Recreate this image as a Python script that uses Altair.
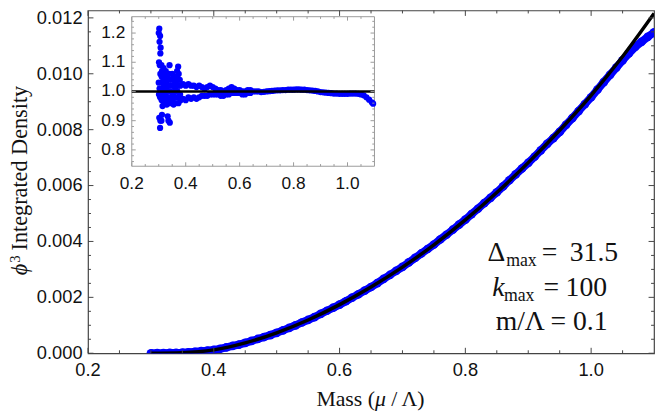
import altair as alt
import pandas as pd

# ---------------- data ----------------
main_x = [0.30, 0.31, 0.32, 0.33, 0.34, 0.35, 0.36, 0.37, 0.38, 0.39,
          0.40, 0.41, 0.42, 0.43, 0.44, 0.45, 0.46, 0.47, 0.48, 0.49,
          0.50, 0.51, 0.52, 0.53, 0.54, 0.55, 0.56, 0.57, 0.58, 0.59,
          0.60, 0.61, 0.62, 0.63, 0.64, 0.65, 0.66, 0.67, 0.68, 0.69,
          0.70, 0.71, 0.72, 0.73, 0.74, 0.75, 0.76, 0.77, 0.78, 0.79,
          0.80, 0.81, 0.82, 0.83, 0.84, 0.85, 0.86, 0.87, 0.88, 0.89,
          0.90, 0.91, 0.92, 0.93, 0.94, 0.95, 0.96, 0.97, 0.98, 0.99,
          1.00, 1.01, 1.02, 1.03, 1.04, 1.05, 1.06, 1.07, 1.08, 1.09, 1.10]
main_y = [0.0, 0.000002, 0.000005, 0.00001, 0.000014, 0.00002, 0.000033, 0.000052, 0.000072, 0.000094,
          0.00012, 0.00016, 0.00021, 0.00026, 0.00031, 0.00037, 0.00044, 0.00051, 0.00058, 0.00065,
          0.00073, 0.00082, 0.00091, 0.00100, 0.00110, 0.00119, 0.00129, 0.00141, 0.00152, 0.00163,
          0.00174, 0.00186, 0.00199, 0.00211, 0.00224, 0.00237, 0.00251, 0.00266, 0.00280, 0.00295,
          0.00309, 0.00325, 0.00341, 0.00357, 0.00373, 0.00389, 0.00407, 0.00424, 0.00442, 0.00460,
          0.00478, 0.00498, 0.00517, 0.00537, 0.00556, 0.00576, 0.00597, 0.00619, 0.00640, 0.00661,
          0.00681, 0.00703, 0.00726, 0.00749, 0.00770, 0.00792, 0.00817, 0.00841, 0.00866, 0.00891,
          0.00916, 0.00943, 0.00970, 0.00996, 0.01022, 0.01048, 0.01073, 0.01096, 0.01114, 0.01132, 0.01148]

theory_x = [0.30, 0.35, 0.40, 0.45, 0.50, 0.55, 0.60, 0.65, 0.70, 0.75, 0.80, 0.85, 0.90, 0.95, 1.00, 1.05, 1.10]
theory_y = [0.0, 0.00002, 0.00012, 0.00037, 0.00073, 0.00119, 0.00174, 0.00237, 0.00308, 0.00388,
            0.00477, 0.00575, 0.00682, 0.00798, 0.00923, 0.01062, 0.01216]

inset_x = [0.300, 0.302, 0.305, 0.303, 0.307, 0.306, 0.301, 0.304, 0.306, 0.300, 0.303, 0.301, 0.305, 0.302, 0.306, 0.305,
           0.310, 0.312, 0.311, 0.313, 0.310, 0.312, 0.311, 0.314, 0.312, 0.310,
           0.318, 0.320, 0.318, 0.320, 0.319, 0.321, 0.320,
           0.326, 0.328, 0.327, 0.329, 0.326, 0.328, 0.330, 0.333, 0.336,
           0.338, 0.340, 0.342, 0.340, 0.343, 0.341, 0.344, 0.341,
           0.350, 0.352, 0.351, 0.353, 0.350, 0.355,
           0.360, 0.362, 0.361, 0.363, 0.360,
           0.368, 0.372, 0.374, 0.370, 0.372, 0.369, 0.371, 0.373,
           0.378, 0.380, 0.379, 0.381,
           0.39, 0.39, 0.40, 0.40, 0.41, 0.41, 0.42, 0.42, 0.43, 0.43, 0.44, 0.44, 0.45, 0.45,
           0.46, 0.46, 0.47, 0.47, 0.48, 0.48, 0.49, 0.49, 0.50, 0.50, 0.51, 0.51, 0.52, 0.52,
           0.53, 0.53, 0.54, 0.54, 0.55, 0.55, 0.56, 0.56, 0.57, 0.57, 0.58, 0.58, 0.59, 0.59,
           0.60, 0.60, 0.61, 0.61, 0.62, 0.62, 0.63, 0.63, 0.64, 0.64,
           0.65, 0.66, 0.67, 0.68, 0.69, 0.70, 0.71, 0.72, 0.73, 0.74, 0.75, 0.76, 0.77, 0.78, 0.79,
           0.80, 0.81, 0.82, 0.83, 0.84, 0.85, 0.86, 0.87, 0.88, 0.89, 0.90, 0.91, 0.92, 0.93, 0.94,
           0.95, 0.96, 0.97, 0.98, 0.99, 1.00, 1.01, 1.02, 1.03, 1.04, 1.05, 1.06, 1.07, 1.08, 1.09, 1.095]
inset_r = [1.20, 1.215, 1.19, 1.17, 1.15, 1.13, 1.10, 1.09, 1.06, 1.03, 1.01, 0.99, 0.98, 0.91, 0.90, 0.875,
           1.09, 1.07, 1.05, 1.03, 1.01, 0.99, 0.97, 0.95, 0.92, 0.90,
           1.08, 1.06, 1.04, 1.02, 1.00, 0.98, 0.96,
           1.07, 1.05, 1.03, 1.01, 0.99, 0.97, 0.955, 0.915, 0.90,
           1.06, 1.09, 1.04, 1.02, 1.00, 0.98, 0.96, 0.893,
           1.06, 1.04, 1.02, 0.99, 0.97, 0.955,
           1.05, 1.03, 1.01, 0.98, 0.96,
           1.07, 1.085, 1.06, 1.04, 1.02, 1.00, 0.98, 0.96,
           1.04, 1.02, 0.99, 0.97,
           1.025, 0.975, 1.02, 0.97, 1.025, 0.98, 1.02, 0.975, 1.02, 0.98, 1.015, 0.975, 1.02, 0.98,
           1.015, 0.985, 1.01, 0.985, 1.015, 0.985, 1.02, 0.99, 1.015, 0.99, 1.01, 0.99, 1.005, 0.99,
           1.005, 0.985, 1.00, 0.985, 1.005, 0.99, 1.01, 0.99, 1.015, 0.995, 1.01, 0.995, 1.005, 0.995,
           1.005, 0.995, 1.00, 0.99, 1.00, 0.99, 1.005, 0.995, 1.005, 0.995,
           1.000, 1.000, 1.000, 0.998, 0.999, 1.000, 1.001, 1.002, 1.003, 1.004, 1.004, 1.005, 1.005, 1.006, 1.006,
           1.006, 1.007, 1.007, 1.006, 1.006, 1.005, 1.004, 1.003, 1.002, 1.000, 0.998, 0.997, 0.996, 0.995, 0.994,
           0.993, 0.993, 0.992, 0.992, 0.992, 0.992, 0.993, 0.993, 0.993, 0.992, 0.990, 0.987, 0.980, 0.972, 0.963, 0.958]
inset_ref = [1.0]

main_x_domain = [0.2, 1.1]
main_y_domain = [0.0, 0.012265]
inset_x_domain = [0.2, 1.1]
inset_y_domain = [0.744, 1.256]

main_xtick_major = [0.2, 0.4, 0.6, 0.8, 1.0]
main_xtick_labels = ["0.2", "0.4", "0.6", "0.8", "1.0"]
main_xtick_minor = [0.25, 0.3, 0.35, 0.45, 0.5, 0.55, 0.65, 0.7, 0.75, 0.85, 0.9, 0.95, 1.05]
main_ytick_major = [0.0, 0.002, 0.004, 0.006, 0.008, 0.010, 0.012]
main_ytick_labels = ["0.000", "0.002", "0.004", "0.006", "0.008", "0.010", "0.012"]
main_ytick_minor = [0.0005, 0.001, 0.0015, 0.0025, 0.003, 0.0035, 0.0045, 0.005, 0.0055,
                    0.0065, 0.007, 0.0075, 0.0085, 0.009, 0.0095, 0.0105, 0.011, 0.0115]
inset_xtick_major = [0.2, 0.4, 0.6, 0.8, 1.0]
inset_xtick_labels = ["0.2", "0.4", "0.6", "0.8", "1.0"]
inset_xtick_minor = [0.25, 0.3, 0.35, 0.45, 0.5, 0.55, 0.65, 0.7, 0.75, 0.85, 0.9, 0.95, 1.05]
inset_ytick_major = [0.8, 0.9, 1.0, 1.1, 1.2]
inset_ytick_labels = ["0.8", "0.9", "1.0", "1.1", "1.2"]
inset_ytick_minor = [0.76, 0.78, 0.82, 0.84, 0.86, 0.88, 0.92, 0.94, 0.96, 0.98,
                     1.02, 1.04, 1.06, 1.08, 1.12, 1.14, 1.16, 1.18, 1.22, 1.24]

x_title_parts = ["Mass (", "μ", "/ Λ)"]
y_title_parts = ["ϕ", "3", "Integrated Density"]
annot_text = ["Δ", "max", "=", "31.5", "k", "max", "=", "100", "m/Λ", "=", "0.1"]

# ---------------- layout / style ----------------
W, H = 573, 347
IL, IR, IT, IB = 44.3, 290.0, 6.3, 157.7
FRAME = "#444444"
IFRAME = "#9a9a9a"
LABEL = "#111111"
BLUE = "#0000ff"
SANS = "Liberation Sans"
SERIF = "Liberation Serif"

annot_pos = [  # x, y (baseline), font size, style  -- pixels inside the plot area
    (404.3, 253.7, 28, "normal"), (423.3, 258.7, 18, "normal"), (459.3, 253.7, 28, "normal"), (487.7, 253.7, 28, "normal"),
    (409.3, 288.7, 28, "italic"), (421.0, 293.7, 18, "normal"), (461.0, 288.7, 28, "normal"), (483.5, 288.7, 28, "normal"),
    (412.7, 323.7, 28, "normal"), (468.3, 323.7, 28, "normal"), (491.0, 323.7, 28, "normal"),
]
x_title_pos = [  # x (left), y (baseline), size, style
    (231.2, H + 53.3, 22, "normal"), (290.5, H + 53.3, 22, "italic"), (307.0, H + 53.3, 22, "normal"),
]
y_title_pos = [  # x (baseline), y (start, text runs upward), size, style
    (-62, 268, 22.5, "italic"), (-69, 255.5, 15, "normal"), (-62, 243, 22.5, "normal"),
]

xs = alt.Scale(domain=main_x_domain, nice=False, zero=False)
ys = alt.Scale(domain=main_y_domain, nice=False, zero=False)
ixs = alt.Scale(domain=inset_x_domain, nice=False, zero=False, range=[IL, IR])
iys = alt.Scale(domain=inset_y_domain, nice=False, zero=False, range=[IB, IT])

df_main = pd.DataFrame({"x": main_x, "y": main_y})
df_th = pd.DataFrame({"x": theory_x, "y": theory_y})
df_in = pd.DataFrame({"x": inset_x, "r": inset_r})


def xticks(vals, scale, y0, length, color):
    d = pd.DataFrame({"v": vals})
    return alt.Chart(d).mark_rule(color=color, strokeWidth=1).encode(
        x=alt.X("v:Q", scale=scale, axis=None), y=alt.value(y0), y2=alt.value(y0 + length))


def yticks(vals, scale, x0, length, color):
    d = pd.DataFrame({"v": vals})
    return alt.Chart(d).mark_rule(color=color, strokeWidth=1).encode(
        y=alt.Y("v:Q", scale=scale, axis=None), x=alt.value(x0), x2=alt.value(x0 + length))


def xlabels(vals, labs, scale, ybase, fs):
    d = pd.DataFrame({"v": vals, "t": labs})
    return alt.Chart(d).mark_text(font=SANS, fontSize=fs, color=LABEL, align="center",
                                  baseline="alphabetic").encode(
        x=alt.X("v:Q", scale=scale, axis=None), y=alt.value(ybase), text="t:N")


def ylabels(vals, labs, scale, xright, fs):
    d = pd.DataFrame({"v": vals, "t": labs})
    return alt.Chart(d).mark_text(font=SANS, fontSize=fs, color=LABEL, align="right",
                                  baseline="middle").encode(
        y=alt.Y("v:Q", scale=scale, axis=None), x=alt.value(xright), text="t:N")


def piece(t, px, py, fs, st, angle=0):
    return alt.Chart(pd.DataFrame({"t": [t]})).mark_text(
        align="left", baseline="alphabetic", font=SERIF, fontSize=fs, fontStyle=st,
        color=LABEL, angle=angle).encode(text="t:N", x=alt.value(px), y=alt.value(py))


# ---------------- main panel ----------------
band = alt.Chart(df_main).mark_line(color=BLUE, strokeWidth=8, clip=True).encode(
    x=alt.X("x:Q", scale=xs, axis=None), y=alt.Y("y:Q", scale=ys, axis=None))
pts = alt.Chart(df_main).mark_circle(color=BLUE, size=78, opacity=1, clip=True).encode(
    x=alt.X("x:Q", scale=xs, axis=None), y=alt.Y("y:Q", scale=ys, axis=None))
theory = alt.Chart(df_th).mark_line(color="black", strokeWidth=3.5, interpolate="monotone", clip=True).encode(
    x=alt.X("x:Q", scale=xs, axis=None), y=alt.Y("y:Q", scale=ys, axis=None))

main_ticks = [
    xticks(main_xtick_major, xs, H, -5.5, FRAME), xticks(main_xtick_minor, xs, H, -3, FRAME),
    xticks(main_xtick_major, xs, 0, 5.5, FRAME), xticks(main_xtick_minor, xs, 0, 3, FRAME),
    yticks(main_ytick_major, ys, 0, 5.5, FRAME), yticks(main_ytick_minor, ys, 0, 3, FRAME),
    yticks(main_ytick_major, ys, W, -5.5, FRAME), yticks(main_ytick_minor, ys, W, -3, FRAME),
]
main_labels = [
    xlabels(main_xtick_major, main_xtick_labels, xs, H + 23, 18.5),
    ylabels(main_ytick_major, main_ytick_labels, ys, -5.5, 18.5),
]
titles = [piece(t, px, py, fs, st) for t, (px, py, fs, st) in zip(x_title_parts, x_title_pos)]
titles += [piece(t, px, py, fs, st, angle=270) for t, (px, py, fs, st) in zip(y_title_parts, y_title_pos)]

annots = [piece(t, px, py, fs, st) for t, (px, py, fs, st) in zip(annot_text, annot_pos)]

main = alt.layer(band, pts, theory, *main_ticks, *main_labels, *titles, *annots)

# ---------------- inset panel ----------------
df_frame = pd.DataFrame({"x0": [inset_x_domain[0]], "x1": [inset_x_domain[1]],
                         "y0": [inset_y_domain[0]], "y1": [inset_y_domain[1]]})
frame = alt.Chart(df_frame).mark_rect(fill="white", stroke=IFRAME, strokeWidth=1).encode(
    x=alt.X("x0:Q", scale=ixs, axis=None), x2="x1:Q",
    y=alt.Y("y0:Q", scale=iys, axis=None), y2="y1:Q")
ipts = alt.Chart(df_in).mark_circle(color=BLUE, size=40, opacity=1).encode(
    x=alt.X("x:Q", scale=ixs, axis=None), y=alt.Y("r:Q", scale=iys, axis=None))
iref = alt.Chart(pd.DataFrame({"r": inset_ref, "x0": [inset_x_domain[0]], "x1": [inset_x_domain[1]]})).mark_rule(
    color="black", strokeWidth=2.6).encode(
    y=alt.Y("r:Q", scale=iys, axis=None), x=alt.X("x0:Q", scale=ixs, axis=None), x2="x1:Q")
inset_ticks = [
    xticks(inset_xtick_major, ixs, IB, -4, IFRAME), xticks(inset_xtick_minor, ixs, IB, -2.2, IFRAME),
    xticks(inset_xtick_major, ixs, IT, 4, IFRAME), xticks(inset_xtick_minor, ixs, IT, 2.2, IFRAME),
    yticks(inset_ytick_major, iys, IL, 4, IFRAME), yticks(inset_ytick_minor, iys, IL, 2.2, IFRAME),
    yticks(inset_ytick_major, iys, IR, -4, IFRAME), yticks(inset_ytick_minor, iys, IR, -2.2, IFRAME),
]
inset_labels = [
    xlabels(inset_xtick_major, inset_xtick_labels, ixs, IB + 22.6, 17.5),
    ylabels(inset_ytick_major, inset_ytick_labels, iys, IL - 6.6, 17.5),
]
inset = alt.layer(frame, ipts, iref, *inset_ticks, *inset_labels)

chart = alt.layer(main, inset).resolve_scale(x="independent", y="independent").properties(
    width=W, height=H,
    padding={"left": 81, "top": 0, "right": 2, "bottom": 58},
    autosize=alt.AutoSizeParams(type="none"),
).configure_view(stroke=FRAME, strokeWidth=1.2)

chart.save("out.html", embed_options={"renderer": "svg", "actions": False})
